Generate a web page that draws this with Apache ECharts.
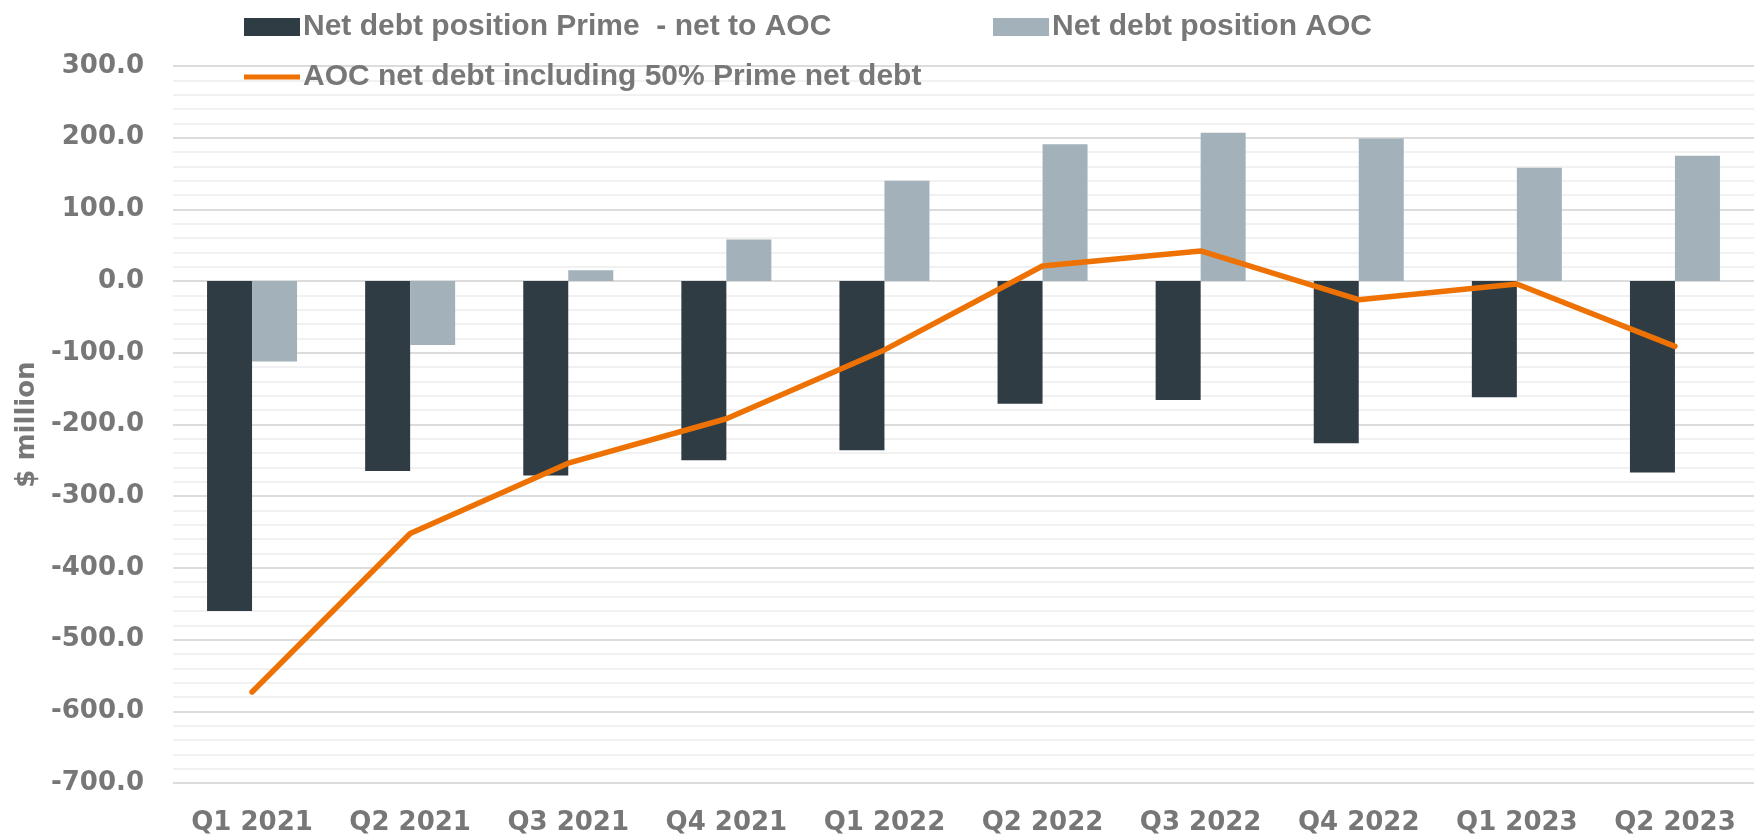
<!DOCTYPE html>
<html>
<head>
<meta charset="utf-8">
<script src="https://cdn.jsdelivr.net/npm/echarts@6/dist/echarts.min.js"></script>
<style>
  html, body { margin: 0; padding: 0; background: #fff; }
  #chart { width: 1754px; height: 836px; }
</style>
</head>
<body>
<div id="chart"></div>
<script>
const categories = ['Q1 2021', 'Q2 2021', 'Q3 2021', 'Q4 2021', 'Q1 2022', 'Q2 2022', 'Q3 2022', 'Q4 2022', 'Q1 2023', 'Q2 2023']
const primeNetToAoc = [-460, -265, -271, -250, -236, -171, -166, -226, -162, -267]
const aocNetDebt = [-112, -89, 15, 58, 140, 191, 207, 199, 158, 175]
const aocInclPrime = [-573, -352, -254, -192, -96, 21, 42, -26, -4, -91]

const names = [
  'Net debt position Prime  - net to AOC',
  'Net debt position AOC',
  'AOC net debt including 50% Prime net debt'
]

const textGray = '#777777' // label grey
const labelFont = '"DejaVu Sans", sans-serif'
const legendFont = '"Liberation Sans", sans-serif'

const legendBase = {
  itemWidth: 56,
  itemHeight: 18,
  itemGap: 0,
  textStyle: {
    color: textGray,
    fontFamily: legendFont,
    fontWeight: 'bold',
    fontSize: 30,
    padding: [0, 0, 0, -2]
  }
}

const chart = echarts.init(document.getElementById('chart'))

const option = {
  animation: false,
  legend: [
    { ...legendBase, data: [{ name: names[0], icon: 'rect' }], left: 239, top: 7 },
    { ...legendBase, data: [{ name: names[1], icon: 'rect' }], left: 988, top: 7 },
    {
      ...legendBase,
      data: [{ name: names[2], icon: 'rect' }],
      itemHeight: 5,
      left: 239,
      top: 57
    }
  ],
  grid: {
    left: 173,
    right: 0,
    top: 66,
    bottom: 53
  },
  xAxis: {
    type: 'category',
    data: categories,
    axisLine: { show: false, onZero: false },
    axisTick: { show: false },
    axisLabel: {
      color: textGray,
      fontFamily: labelFont,
      fontWeight: 'bold',
      fontSize: 26,
      margin: 27
    }
  },
  yAxis: {
    type: 'value',
    min: -700,
    max: 300,
    interval: 100,
    name: '$ million',
    nameLocation: 'middle',
    nameGap: 131,
    nameTextStyle: {
      color: textGray,
      fontFamily: labelFont,
      fontWeight: 'bold',
      fontSize: 26
    },
    axisLine: { show: false },
    axisTick: { show: false },
    minorTick: { show: false, splitNumber: 5 },
    axisLabel: {
      color: textGray,
      fontFamily: labelFont,
      fontWeight: 'bold',
      fontSize: 26,
      margin: 29,
      formatter: (v) => v.toFixed(1)
    },
    splitLine: {
      lineStyle: { color: '#dcdcdc', width: 2 }
    },
    minorSplitLine: {
      show: true,
      lineStyle: { color: '#f1f1f1', width: 2 }
    }
  },
  series: [
    {
      name: names[0],
      type: 'bar',
      barWidth: 45,
      barGap: '0%',
      itemStyle: { color: '#2f3c44' },
      data: primeNetToAoc
    },
    {
      name: names[1],
      type: 'bar',
      barWidth: 45,
      itemStyle: { color: '#a3b1ba' },
      data: aocNetDebt
    },
    {
      name: names[2],
      type: 'line',
      showSymbol: false,
      symbol: 'none',
      lineStyle: { color: '#ee7203', width: 5.5, cap: 'round', join: 'round' },
      itemStyle: { color: '#ee7203' },
      data: aocInclPrime
    }
  ]
}

chart.setOption(option)
</script>
</body>
</html>
